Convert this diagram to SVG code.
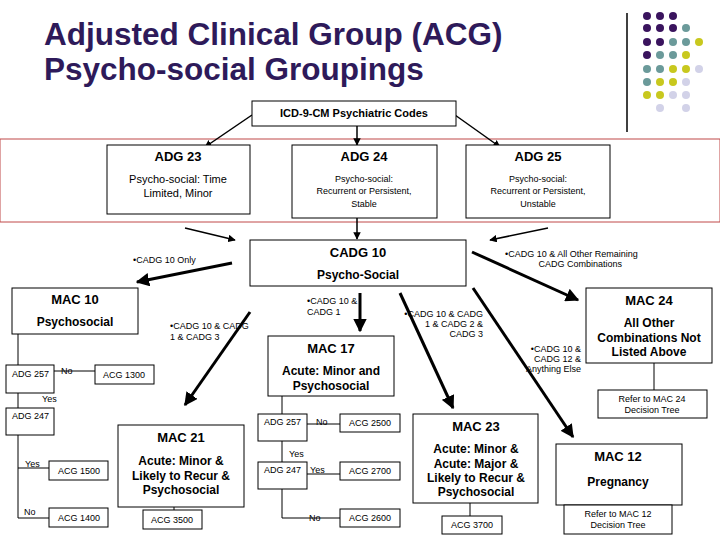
<svg xmlns="http://www.w3.org/2000/svg" width="720" height="540" viewBox="0 0 720 540">
<defs>
<marker id="ah" viewBox="0 0 10 10" refX="9" refY="5" markerWidth="4.5" markerHeight="4.5" orient="auto" markerUnits="strokeWidth"><path d="M0,0L10,5L0,10z" fill="#000"/></marker>
<marker id="ahs" viewBox="0 0 10 10" refX="9" refY="5" markerWidth="5" markerHeight="5" orient="auto" markerUnits="strokeWidth"><path d="M0,0L10,5L0,10z" fill="#000"/></marker>
</defs>
<style>
text{font-family:"Liberation Sans",Arial,sans-serif;fill:#000}
.b{fill:#fff;stroke:#000;stroke-width:1}
.h{font-size:13px;font-weight:bold;text-anchor:middle}
.m{font-size:12px;font-weight:bold;text-anchor:middle}
.s{font-size:11px;text-anchor:middle}
.t{font-size:9px}
.tc{font-size:9px;text-anchor:middle}
.ln{stroke:#000;stroke-width:1;fill:none}
.a{stroke:#000;stroke-width:3;fill:none;marker-end:url(#ah)}
.as{stroke:#000;stroke-width:1.5;fill:none;marker-end:url(#ahs)}
.ttl{font-size:31.5px;font-weight:bold;fill:#2e1a5a}
</style>
<rect width="720" height="540" fill="#fff"/>
<text class="ttl" x="44" y="45">Adjusted Clinical Group (ACG)</text>
<text class="ttl" x="44" y="80">Psycho-social Groupings</text>
<line x1="627" y1="13" x2="627" y2="132" stroke="#000" stroke-width="1.5"/>
<g id="dots">
<g fill="#3a145e"><circle cx="647" cy="16" r="4"/><circle cx="660" cy="16" r="4"/><circle cx="673" cy="16" r="4"/><circle cx="647" cy="28" r="4"/><circle cx="660" cy="28" r="4"/><circle cx="673" cy="28" r="4"/><circle cx="647" cy="42" r="4"/><circle cx="660" cy="42" r="4"/><circle cx="647" cy="55" r="4"/></g>
<g fill="#6b9a9a"><circle cx="686" cy="28" r="4"/><circle cx="673" cy="42" r="4"/><circle cx="686" cy="42" r="4"/><circle cx="660" cy="55" r="4"/><circle cx="673" cy="55" r="4"/><circle cx="647" cy="69" r="4"/><circle cx="660" cy="69" r="4"/><circle cx="647" cy="82" r="4"/></g>
<g fill="#c8c81e"><circle cx="699" cy="42" r="4"/><circle cx="686" cy="55" r="4"/><circle cx="673" cy="69" r="4"/><circle cx="686" cy="69" r="4"/><circle cx="660" cy="82" r="4"/><circle cx="673" cy="82" r="4"/><circle cx="647" cy="95" r="4"/><circle cx="660" cy="95" r="4"/></g>
<g fill="#d2d2e8"><circle cx="699" cy="69" r="4"/><circle cx="686" cy="82" r="4"/><circle cx="673" cy="95" r="4"/><circle cx="686" cy="95" r="4"/><circle cx="660" cy="108" r="4"/><circle cx="686" cy="108" r="4"/></g>
</g>
<rect x="0" y="139" width="720" height="83" fill="none" stroke="#c04848" stroke-width="1"/>
<g id="connectors">
<path class="as" d="M252,115L205,147"/><path class="as" d="M357,126L357,145"/><path class="as" d="M455,115L500,147"/>
<path class="as" d="M185,228L235,240"/><path class="as" d="M357,218L357,239"/><path class="as" d="M548,228L490,240"/>
<path class="a" d="M232,263L137,282"/>
<path class="a" d="M250,312L185,405"/>
<path class="a" d="M360,293L360,331"/>
<path class="a" d="M400,293L453,408"/>
<path class="a" d="M473,288L573,437"/>
<path class="a" d="M472,252L578,300"/>
<path class="ln" d="M18,334V365M18,393V408M54,371H95M18,435V518H49M18,468H49"/>
<path class="ln" d="M174,507V510"/>
<path class="ln" d="M282,396V414M282,441V462M307,424H340M307,474H340M282,489V518H340"/>
<path class="ln" d="M470,503V516"/>
<path class="ln" d="M654,363V390"/>
</g>
<g id="lbls">
<text class="t" x="133" y="263">•CADG 10 Only</text>
<text class="t" x="170" y="329">•CADG 10 &amp; CADG</text><text class="t" x="170" y="340">1 &amp; CADG 3</text>
<text class="t" x="307" y="304">•CADG 10 &amp;</text><text class="t" x="307" y="315">CADG 1</text>
<text class="t" x="483" y="317" text-anchor="end">•CADG 10 &amp; CADG</text><text class="t" x="483" y="327" text-anchor="end">1 &amp; CADG 2 &amp;</text><text class="t" x="483" y="337" text-anchor="end">CADG 3</text>
<text class="t" x="581" y="352" text-anchor="end">•CADG 10 &amp;</text><text class="t" x="581" y="362" text-anchor="end">CADG 12 &amp;</text><text class="t" x="581" y="372" text-anchor="end">Anything Else</text>
<text class="t" x="505" y="257">•CADG 10 &amp; All Other Remaining</text><text class="t" x="622" y="267" text-anchor="end">CADG Combinations</text>
<text class="t" x="61" y="374">No</text><text class="t" x="42" y="402">Yes</text><text class="t" x="25" y="467">Yes</text><text class="t" x="24" y="515">No</text>
<text class="t" x="316" y="425">No</text><text class="t" x="289" y="457">Yes</text><text class="t" x="310" y="473">Yes</text><text class="t" x="309" y="521">No</text>
</g>
<g id="icd"><rect class="b" x="252" y="101" width="204" height="25"/><text class="s" x="354" y="117" font-weight="bold" font-size="12">ICD-9-CM Psychiatric Codes</text></g>
<g id="adg23"><rect class="b" x="107" y="145" width="143" height="69"/><text class="h" x="178" y="161">ADG 23</text><text class="s" x="178" y="183">Psycho-social: Time</text><text class="s" x="178" y="197">Limited, Minor</text></g>
<g id="adg24"><rect class="b" x="292" y="145" width="145" height="73"/><text class="h" x="364" y="161">ADG 24</text><text class="tc" x="364" y="182" font-size="10">Psycho-social:</text><text class="tc" x="364" y="194" font-size="10">Recurrent or Persistent,</text><text class="tc" x="364" y="207" font-size="10">Stable</text></g>
<g id="adg25"><rect class="b" x="466" y="145" width="144" height="73"/><text class="h" x="538" y="161">ADG 25</text><text class="tc" x="538" y="182" font-size="10">Psycho-social:</text><text class="tc" x="538" y="194" font-size="10">Recurrent or Persistent,</text><text class="tc" x="538" y="207" font-size="10">Unstable</text></g>
<g id="cadg10"><rect class="b" x="250" y="240" width="216" height="46"/><text class="h" x="358" y="257">CADG 10</text><text class="m" x="358" y="279">Psycho-Social</text></g>
<g id="mac10"><rect class="b" x="12" y="288" width="126" height="46"/><text class="h" x="75" y="304">MAC 10</text><text class="m" x="75" y="326">Psychosocial</text></g>
<g id="adg257a"><rect class="b" x="6" y="365" width="48" height="28"/><text class="t" x="12" y="377">ADG 257</text></g>
<g id="acg1300"><rect class="b" x="95" y="365" width="59" height="19"/><text class="tc" x="124" y="378">ACG 1300</text></g>
<g id="adg247a"><rect class="b" x="6" y="408" width="48" height="27"/><text class="t" x="12" y="419">ADG 247</text></g>
<g id="acg1500"><rect class="b" x="49" y="461" width="59" height="19"/><text class="tc" x="79" y="474">ACG 1500</text></g>
<g id="acg1400"><rect class="b" x="49" y="508" width="59" height="19"/><text class="tc" x="79" y="521">ACG 1400</text></g>
<g id="mac21"><rect class="b" x="118" y="425" width="126" height="82"/><text class="h" x="181" y="442">MAC 21</text><text class="m" x="181" y="465">Acute: Minor &amp;</text><text class="m" x="181" y="480">Likely to Recur &amp;</text><text class="m" x="181" y="494">Psychosocial</text></g>
<g id="acg3500"><rect class="b" x="143" y="510" width="59" height="19"/><text class="tc" x="172" y="523">ACG 3500</text></g>
<g id="mac17"><rect class="b" x="268" y="336" width="126" height="60"/><text class="h" x="331" y="353">MAC 17</text><text class="m" x="331" y="375">Acute: Minor and</text><text class="m" x="331" y="390">Psychosocial</text></g>
<g id="adg257b"><rect class="b" x="258" y="414" width="49" height="27"/><text class="t" x="264" y="425">ADG 257</text></g>
<g id="acg2500"><rect class="b" x="340" y="414" width="60" height="18"/><text class="tc" x="370" y="426">ACG 2500</text></g>
<g id="adg247b"><rect class="b" x="258" y="462" width="49" height="27"/><text class="t" x="264" y="473">ADG 247</text></g>
<g id="acg2700"><rect class="b" x="340" y="462" width="60" height="18"/><text class="tc" x="370" y="474">ACG 2700</text></g>
<g id="acg2600"><rect class="b" x="340" y="509" width="60" height="18"/><text class="tc" x="370" y="521">ACG 2600</text></g>
<g id="mac23"><rect class="b" x="413" y="414" width="125" height="89"/><text class="h" x="476" y="431">MAC 23</text><text class="m" x="476" y="453">Acute: Minor &amp;</text><text class="m" x="476" y="468">Acute:  Major &amp;</text><text class="m" x="476" y="482">Likely to Recur &amp;</text><text class="m" x="476" y="496">Psychosocial</text></g>
<g id="acg3700"><rect class="b" x="442" y="516" width="60" height="18"/><text class="tc" x="472" y="528">ACG 3700</text></g>
<g id="mac24"><rect class="b" x="586" y="288" width="126" height="75"/><text class="h" x="649" y="305">MAC 24</text><text class="m" x="649" y="327">All Other</text><text class="m" x="649" y="342">Combinations Not</text><text class="m" x="649" y="356">Listed Above</text></g>
<g id="ref24"><rect class="b" x="598" y="390" width="109" height="28"/><text class="tc" x="652" y="402">Refer to MAC 24</text><text class="tc" x="652" y="413">Decision Tree</text></g>
<g id="mac12"><rect class="b" x="556" y="444" width="126" height="61"/><text class="h" x="618" y="461">MAC 12</text><text class="m" x="618" y="486">Pregnancy</text></g>
<g id="ref12"><rect class="b" x="564" y="505" width="108" height="29"/><text class="tc" x="618" y="517">Refer to MAC 12</text><text class="tc" x="618" y="528">Decision Tree</text></g>
</svg>
